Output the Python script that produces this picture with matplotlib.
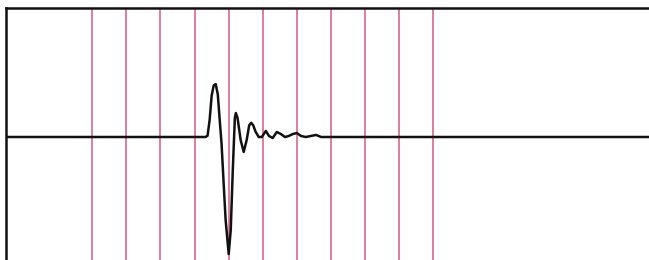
import matplotlib.pyplot as plt

# grid markers (time, ms) and the traced waveform
marker_times = [0, 1, 2, 3, 4, 5, 6, 7, 8, 9, 10]
t = [-2.6, 3.32, 3.38, 3.44, 3.50, 3.56, 3.62, 3.68, 3.74, 3.79, 3.85, 3.91, 4.00,
     4.06, 4.12, 4.18, 4.21, 4.26, 4.35, 4.44, 4.53, 4.60, 4.66, 4.72, 4.79, 4.88,
     4.97, 5.09, 5.18, 5.29, 5.41, 5.53, 5.65, 5.76, 5.88, 6.00, 6.12, 6.26, 6.41,
     6.56, 6.71, 6.85, 16.5]
v = [0.0, 0.0, 0.01, 0.13, 0.32, 0.40, 0.41, 0.33, 0.12, -0.05, -0.35, -0.643, -0.907,
     -0.721, -0.256, 0.147, 0.186, 0.147, -0.023, -0.116, -0.02, 0.09, 0.11, 0.09,
     0.04, 0.0, 0.0, 0.047, 0.008, -0.008, 0.039, 0.023, 0.0, 0.008, 0.023, 0.031,
     0.008, 0.0, 0.008, 0.016, 0.0, 0.0, 0.0]

fig = plt.figure(figsize=(6.49, 2.6), dpi=100)
ax = fig.add_axes([6 / 649, -6 / 260, 1.0, 258 / 260])

for m in marker_times:
    ax.axvline(m, color="#d9678f", lw=1.2, zorder=1)

ax.plot(t, v, color="#111111", lw=1.8, zorder=3)

ax.set_xlim(-2.53, 16.5)
ax.set_ylim(-1, 1)
ax.set_xticks([])
ax.set_yticks([])
for side in ["right", "bottom"]:
    ax.spines[side].set_visible(False)
for side in ["left", "top"]:
    ax.spines[side].set_linewidth(1.8)
    ax.spines[side].set_color("#111111")

fig.savefig("out.png", dpi=100)
plt.close(fig)
